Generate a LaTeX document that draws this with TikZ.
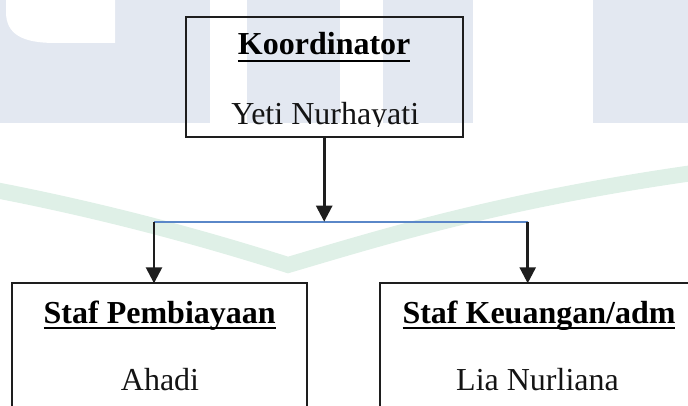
\documentclass[tikz,border=0pt]{standalone}
\usepackage{fontspec}
\setmainfont{Liberation Serif}
\usetikzlibrary{arrows.meta}
\definecolor{wmblue}{RGB}{227,232,241}
\definecolor{wmgreen}{RGB}{223,240,231}
\definecolor{linek}{RGB}{30,30,30}
\definecolor{hblue}{RGB}{90,135,200}
\begin{document}
\begin{tikzpicture}[x=1pt,y=-1pt,
  box/.style={draw=linek,line width=2.2pt,inner sep=0pt,outer sep=0pt},
  tbold/.style={anchor=base,inner sep=0pt,outer sep=0pt,text=black,font=\fontsize{32}{38}\selectfont\bfseries},
  treg/.style={anchor=base,inner sep=0pt,outer sep=0pt,text=black!92,font=\fontsize{32}{38}\selectfont},
  ul/.style={draw=black,line width=2.2pt},
  conn/.style={draw=linek,line width=2.6pt,-{Triangle[length=16pt,width=16pt]}},
  hline/.style={draw=hblue,line width=2pt}]
\useasboundingbox (0,0) rectangle (688,406);
% watermark
\fill[wmblue] (0,0) rectangle (210,123);
\fill[white] (6,-1) -- (6,12) .. controls (6,34) and (22,43) .. (55,43) -- (115,43) -- (115,-1) -- cycle;
\fill[wmblue] (247,0) rectangle (340,123);
\fill[wmblue] (383,0) rectangle (473,123);
\fill[wmblue] (593,0) rectangle (688,123);
\begin{scope}
\clip (0,0) rectangle (688,406);
\draw[wmgreen,line width=16pt,line join=miter] (-10,189) .. controls (100,210) and (200,237) .. (288,265) .. controls (380,238) and (500,200) .. (700,172);
% boxes
\node[box,minimum width=277pt,minimum height=120.3pt] (koord) at (324.2,76.85) {};
\node[box,minimum width=295.3pt,minimum height=140pt,anchor=north] (pemb) at (159.65,283.3) {};
\node[box,minimum width=318pt,minimum height=140pt,anchor=north] (keu) at (539,283.3) {};
\end{scope}
% texts
\node[tbold] (t1) at (324.2,55) {Koordinator};
\draw[ul] ([yshift=-5.7pt]t1.base west) -- ([yshift=-5.7pt]t1.base east);
\begin{scope}
\clip (0,0) rectangle (688,126.5);
\node[treg] (t2) at (325.3,125) {Yeti Nurhayati};
\end{scope}
\begin{scope}
\clip (0,0) rectangle (688,329.5);
\node[tbold] (t3) at (159.7,323.3) {Staf Pembiayaan};
\node[tbold] (t4) at (539,323.3) {Staf Keuangan/adm};
\end{scope}
\draw[ul] ([yshift=-5pt]t3.base west) -- ([yshift=-5pt]t3.base east);
\draw[ul] ([yshift=-5pt]t4.base west) -- ([yshift=-5pt]t4.base east);
\node[treg] (t5) at (160,390) {Ahadi};
\node[treg] (t6) at (537.5,390) {Lia Nurliana};
% connectors
\coordinate (j) at (324.2,221.7);
\coordinate (jl) at (154,221.7);
\coordinate (jr) at (527.7,221.7);
\draw[hline] (jl) -- (jr);
\draw[conn] (koord.south) -- (j);
\draw[conn] (jl) -- (jl |- pemb.north);
\draw[conn] (jr) -- (jr |- keu.north);
\end{tikzpicture}
\end{document}
